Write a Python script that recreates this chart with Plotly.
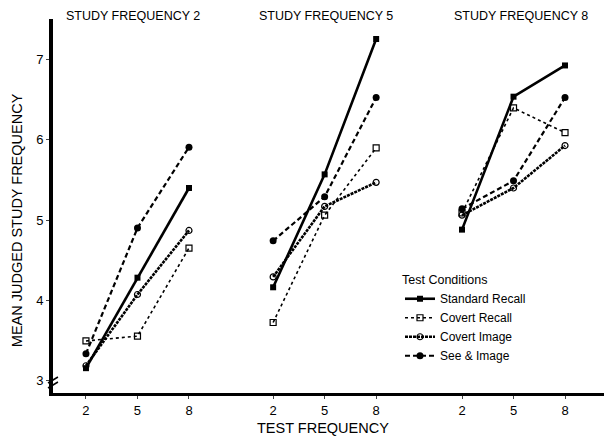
import plotly.graph_objects as go

# ---- data ----
test_freq = [2, 5, 8]
study_freq = [2, 5, 8]
panel_titles = ["STUDY FREQUENCY 2", "STUDY FREQUENCY 5", "STUDY FREQUENCY 8"]

standard_recall = [[3.15, 4.28, 5.40], [4.16, 5.57, 7.26], [4.88, 6.54, 6.93]]
covert_recall = [[3.49, 3.55, 4.65], [3.72, 5.06, 5.90], [5.09, 6.40, 6.09]]
covert_image = [[3.18, 4.07, 4.87], [4.29, 5.17, 5.47], [5.06, 5.40, 5.93]]
see_image = [[3.33, 4.90, 5.91], [4.74, 5.29, 6.53], [5.14, 5.49, 6.53]]

series_names = ["Standard Recall", "Covert Recall", "Covert Image", "See & Image"]
y_ticks = [3, 4, 5, 6, 7]

# ---- layout helpers ----
panel_offset = [0, 10.9, 21.9]
FONT = "Liberation Sans, Arial, sans-serif"

styles = {
    "Standard Recall": dict(line=dict(color="black", width=2.6, dash="solid"),
                            marker=dict(symbol="square", size=6, color="black")),
    "Covert Recall": dict(line=dict(color="black", width=1.6, dash="dot"),
                          marker=dict(symbol="square-open", size=6, color="black",
                                      line=dict(width=1.2))),
    "Covert Image": dict(line=dict(color="black", width=2.6, dash="3px,1px"),
                         marker=dict(symbol="circle-open", size=6, color="black",
                                     line=dict(width=1.2))),
    "See & Image": dict(line=dict(color="black", width=2.2, dash="5px,3px"),
                        marker=dict(symbol="circle", size=7, color="black")),
}

all_data = {
    "Standard Recall": standard_recall,
    "Covert Recall": covert_recall,
    "Covert Image": covert_image,
    "See & Image": see_image,
}

fig = go.Figure()
for name in series_names:
    vals = all_data[name]
    for p in range(3):
        fig.add_trace(go.Scatter(
            x=[t + panel_offset[p] for t in test_freq],
            y=vals[p],
            mode="lines+markers",
            name=name,
            legendgroup=name,
            showlegend=(p == 0),
            **styles[name],
        ))

tickvals = []
ticktext = []
for p in range(3):
    for t in test_freq:
        tickvals.append(t + panel_offset[p])
        ticktext.append(str(t))

annotations = []
title_x = [133, 326, 521]
for p in range(3):
    annotations.append(dict(
        text=panel_titles[p], x=(title_x[p] - 53) / 551, y=(393 - 16) / 374,
        xref="paper", yref="paper",
        xanchor="center", yanchor="middle", showarrow=False,
        font=dict(family=FONT, size=12.5, color="black")))
annotations.append(dict(
    text="TEST FREQUENCY", x=(323 - 53) / 551, y=(393 - 428) / 374,
    xref="paper", yref="paper",
    xanchor="center", yanchor="middle", showarrow=False,
    font=dict(family=FONT, size=14.5, color="black")))
annotations.append(dict(
    text="MEAN JUDGED STUDY FREQUENCY", x=-0.065, y=(393 - 220) / 374,
    xref="paper", yref="paper",
    xanchor="center", yanchor="middle", showarrow=False, textangle=-90,
    font=dict(family=FONT, size=14.5, color="black")))

shapes = []
# axis break marks
for dy in [0, 5]:
    shapes.append(dict(type="line", xref="paper", yref="paper",
                       x0=-0.009, x1=0.009, y0=(393 - 386 - dy + 3) / 374,
                       y1=(393 - 386 - dy + 9) / 374,
                       line=dict(color="black", width=1.5)))

fig.update_layout(
    width=604, height=439,
    margin=dict(l=53, r=0, t=19, b=46),
    paper_bgcolor="white", plot_bgcolor="white",
    font=dict(family=FONT, color="black"),
    xaxis=dict(range=[0.08, 32.17], tickvals=tickvals, ticktext=ticktext,
               showgrid=False, zeroline=False, showline=True, linecolor="black",
               linewidth=3, ticks="outside", ticklen=3, tickwidth=1.2,
               tickfont=dict(family=FONT, size=13, color="black")),
    yaxis=dict(range=[2.84, 7.51], tickvals=y_ticks,
               showgrid=False, zeroline=False, showline=True, linecolor="black",
               linewidth=4, ticks="outside", ticklen=3, tickwidth=1.2,
               tickfont=dict(family=FONT, size=13, color="black")),
    legend=dict(x=(400 - 53) / 551, y=(393 - 268) / 374, xanchor="left", yanchor="top",
                bgcolor="rgba(0,0,0,0)", tracegroupgap=0, itemwidth=30,
                title=dict(text="Test Conditions", font=dict(family=FONT, size=12.5)),
                font=dict(family=FONT, size=12, color="black")),
    annotations=annotations,
    shapes=shapes,
)

fig.write_html("out.html")
